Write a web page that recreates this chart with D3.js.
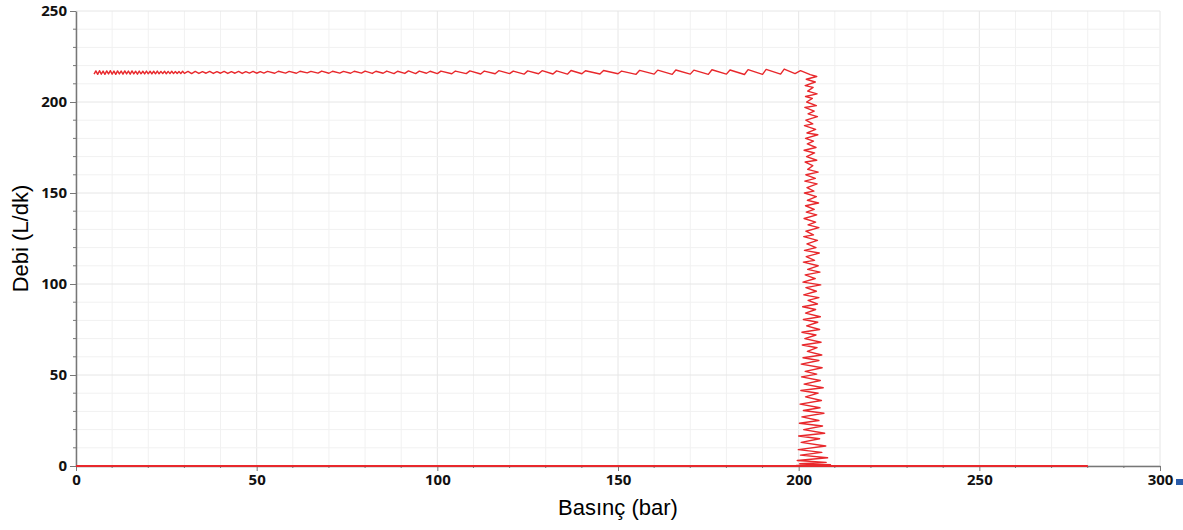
<!DOCTYPE html>
<html>
<head>
<meta charset="utf-8">
<script src="https://cdn.jsdelivr.net/npm/d3@7"></script>
<style>
  body { margin: 0; background: #fff; }
  .tick text { font-family: "Open Sans", "DejaVu Sans", sans-serif; font-weight: bold; font-size: 15px; fill: #111; }
  .title { font-family: "Liberation Sans", Arial, sans-serif; font-size: 22px; fill: #000; }
</style>
</head>
<body>
<svg id="chart"></svg>
<script>
// axis ranges / ticks
var xTicks = [0, 50, 100, 150, 200, 250, 300];
var yTicks = [0, 50, 100, 150, 200, 250];
var xLabel = "Basınç (bar)";
var yLabel = "Debi (L/dk)";

// plateau part of the curve: [pressure, flow]
var plateau = [
  [5,215.3],[5.5,217.1],[6,215.2],[6.5,217.2],[7,215.3],[7.5,217.0],[8,215.2],[8.5,217.1],[9,215.4],[9.5,217.2],
  [10,215.3],[10.5,217.0],[11,215.2],[11.5,217.1],[12,215.4],[12.5,217.0],[13,215.3],[13.5,217.1],[14,215.4],[14.5,217.0],
  [15,215.3],[15.5,217.1],[16,215.4],[16.5,216.9],[17,215.3],[17.5,217.0],[18,215.5],[18.5,216.9],[19,215.4],[19.5,217.0],
  [20,215.5],[20.5,216.9],[21,215.4],[21.5,216.9],[22,215.5],[22.5,217.0],[23,215.5],[23.5,216.8],[24,215.6],[24.5,216.9],
  [25,215.5],[25.5,216.8],[26,215.6],[26.5,216.9],[27,215.6],[27.5,216.8],[28,215.7],[28.5,216.8],[29,215.6],[29.5,216.9],
  [30,215.7],[31,216.8],[32,215.6],[33,216.8],[34,215.7],[35,216.7],[36,215.8],[37,216.8],[38,215.7],[39,216.7],
  [40,215.8],[41,216.8],[42,215.7],[43,216.7],[44,215.8],[45,216.8],[46,215.7],[47,216.7],[48,215.9],[49,216.8],
  [50,215.8],[51,216.7],[52,215.9],[53,216.8],[55,215.8],[56,216.9],[58,215.9],[59,216.8],[61,215.8],[62,216.9],
  [64,216.0],[65,216.8],[67,215.9],[68,217.0],[70,215.8],[71,216.9],[73,215.9],[74,216.8],[76,215.8],[77,216.9],
  [79,215.9],[80,217.0],[82,215.7],[83,216.9],[85,215.8],[86,217.0],[88,215.6],[89,216.9],[91,215.7],[92,217.1],
  [94,215.6],[95,217.0],[97,215.8],[98,216.9],[100,215.6],[101,217.0],[104,215.5],[105,217.0],[108,215.6],[109,217.1],
  [112,215.4],[113,217.0],[116,215.5],[117,217.2],[120,215.6],[121,217.0],[124,215.3],[125,217.1],[128,215.5],[129,217.2],
  [132,215.4],[133,217.1],[136,215.3],[137,217.3],[140,215.5],[141,217.2],[145,215.4],[146,217.3],[150,215.5],[151,217.0],
  [155,215.2],[156,217.4],[160,215.3],[161,217.5],[165,215.2],[166,217.6],[170,215.3],[171,217.5],[175,215.2],[176,217.7],
  [180,215.3],[181,217.6],[185,215.1],[186,217.8],[190,215.2],[191,217.9],[195,215.3],[196,218.1],[199,215.6],[200.5,217.2]
];

// drop part of the curve: [pressure, flow]
var drop = [
  [203.2,215],[205.0,214],[202.1,212.5],[204.6,211],[201.8,209],[204.0,208],[202.5,206],[205.1,204.5],[201.9,203],[203.8,202],
  [202.2,200],[204.9,198],[201.7,197],[204.3,195],[202.6,193.5],[205.2,192],[202.0,190],[203.9,188],[201.6,187],[204.7,185],
  [202.3,183],[205.3,182],[201.9,180],[204.1,178.5],[202.4,177],[204.8,175],[201.5,173.5],[204.4,172],[202.2,170],[205.0,168],
  [201.8,167],[203.9,165],[202.5,163],[205.4,161.5],[202.0,160],[204.6,158],[201.7,156.5],[205.1,155],[202.3,153],[204.2,151],
  [201.6,150],[204.9,148],[202.4,146],[205.5,144.5],[201.9,143],[204.3,141],[202.1,139.5],[205.0,138],[201.5,136],[204.7,134],
  [202.6,132.5],[205.6,131],[202.0,129],[204.1,127],[201.4,126],[205.2,124],[202.3,122],[204.8,120],[201.6,118.5],[205.7,117],
  [202.1,115],[204.4,113],[201.3,112],[205.4,110],[202.5,108],[205.9,106.5],[201.8,105],[204.6,103],[201.2,101],[206.1,99.5],
  [202.0,98],[204.9,96],[201.4,94],[205.6,92.5],[202.6,91],[205.2,89],[201.1,87.5],[204.7,86],[201.9,84],[206.0,82],
  [201.3,80.5],[205.3,79],[202.2,77],[205.8,75],[200.9,73.5],[204.8,72],[201.7,70],[206.2,68],[201.0,66.5],[205.1,65],
  [202.4,63],[206.4,61],[201.2,59.5],[205.6,58],[200.7,56],[206.5,54],[201.8,52],[205.0,50.5],[200.8,49],[206.0,47],
  [201.5,45],[206.8,43],[200.6,41.5],[205.4,40],[201.9,38],[206.3,36],[200.4,34],[205.9,32],[201.3,30.5],[207.0,29],
  [200.9,27],[205.6,25],[200.2,23.5],[206.6,22],[201.4,20],[207.2,18],[200.0,16.5],[205.8,15],[200.7,13],[207.5,11],
  [199.9,9],[206.4,7.5],[200.5,6],[208.0,4.5],[199.6,3],[207.6,2],[200.3,1.2],[208.8,0.7],[199.4,0.3],[209.5,0],
  [204,0.2],[280,0]
];

// zero-flow line
var baseline = [[0,0],[280,0]];

var width = 1183, height = 530;
var margin = {left: 76, right: 23, top: 11, bottom: 64};

var svg = d3.select("#chart").attr("width", width).attr("height", height);

var x = d3.scaleLinear().domain([0, 300]).range([margin.left, width - margin.right]);
var y = d3.scaleLinear().domain([0, 250]).range([height - margin.bottom, margin.top]);

// grid every 10 units
var grid = svg.append("g");
grid.selectAll(".gx").data(d3.range(0, 301, 10)).enter().append("line")
  .attr("x1", d => x(d)).attr("x2", d => x(d))
  .attr("y1", y(0)).attr("y2", y(250))
  .attr("stroke", d => d % 50 == 0 ? "#e6e6e6" : "#f1f1f1").attr("stroke-width", 1);
grid.selectAll(".gy").data(d3.range(0, 251, 10)).enter().append("line")
  .attr("y1", d => y(d)).attr("y2", d => y(d))
  .attr("x1", x(0)).attr("x2", x(300))
  .attr("stroke", d => d % 50 == 0 ? "#e6e6e6" : "#f1f1f1").attr("stroke-width", 1);

// minor ticks
svg.append("g").selectAll("line").data(d3.range(0, 251, 10).filter(d => d % 50)).enter().append("line")
  .attr("x1", x(0) - 3).attr("x2", x(0))
  .attr("y1", d => y(d)).attr("y2", d => y(d))
  .attr("stroke", "#777");
svg.append("g").selectAll("line").data(d3.range(0, 301, 10).filter(d => d % 50)).enter().append("line")
  .attr("x1", d => x(d)).attr("x2", d => x(d))
  .attr("y1", y(0)).attr("y2", y(0) + 2)
  .attr("stroke", "#777");

var xAxis = svg.append("g").attr("transform", "translate(0," + y(0) + ")")
  .call(d3.axisBottom(x).tickValues(xTicks).tickSize(5).tickPadding(3).tickSizeOuter(0));
var yAxis = svg.append("g").attr("transform", "translate(" + x(0) + ",0)")
  .call(d3.axisLeft(y).tickValues(yTicks).tickSize(6).tickPadding(3).tickSizeOuter(0));
[xAxis, yAxis].forEach(function (a) {
  a.select(".domain").attr("stroke", "#777").attr("stroke-width", 1.5);
  a.selectAll(".tick line").attr("stroke", "#777");
});

var line = d3.line().x(d => x(d[0])).y(d => y(d[1]));
var red = "#e8282c";

svg.append("path").datum(baseline).attr("d", line)
  .attr("fill", "none").attr("stroke", red).attr("stroke-width", 2);
svg.append("path").datum(plateau.concat(drop)).attr("d", line)
  .attr("fill", "none").attr("stroke", red).attr("stroke-width", 1.4).attr("stroke-linejoin", "round");

svg.append("text").attr("class", "title")
  .attr("x", x(150)).attr("y", 515).attr("text-anchor", "middle").text(xLabel);
svg.append("text").attr("class", "title")
  .attr("transform", "translate(28," + y(125) + ") rotate(-90)")
  .attr("text-anchor", "middle").text(yLabel);

// small blue mark at right edge
svg.append("rect").attr("x", 1176).attr("y", 479).attr("width", 7).attr("height", 6).attr("fill", "#2a5caa");
</script>
</body>
</html>
